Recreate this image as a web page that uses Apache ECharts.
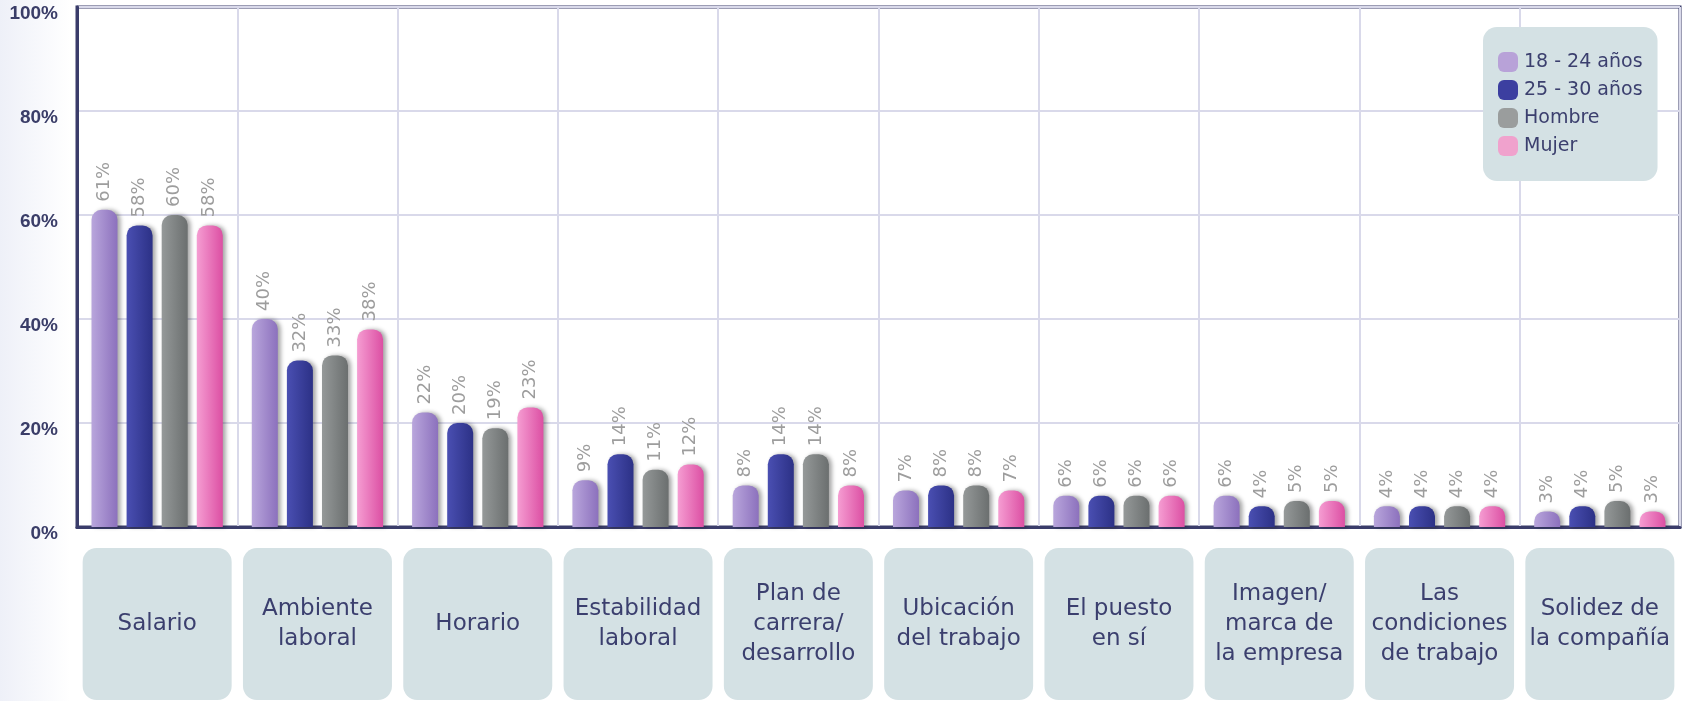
<!DOCTYPE html>
<html>
<head>
<meta charset="utf-8">
<script src="https://cdn.jsdelivr.net/npm/echarts@6/dist/echarts.min.js"></script>
<style>
  html, body { margin: 0; padding: 0; background: #fff; }
  #chart { width: 1683px; height: 701px; background: linear-gradient(to right, #eef0f8 0px, #ffffff 70px); }
</style>
</head>
<body>
<div id="chart"></div>
<script>
// categorias (eje x)
var categories = ['Salario', 'Ambiente\nlaboral', 'Horario', 'Estabilidad\nlaboral', 'Plan de\ncarrera/\ndesarrollo',
  'Ubicación\ndel trabajo', 'El puesto\nen sí', 'Imagen/\nmarca de\nla empresa', 'Las\ncondiciones\nde trabajo', 'Solidez de\nla compañía'];
var seriesNames = ['18 - 24 años', '25 - 30 años', 'Hombre', 'Mujer'];
// valores (%)
var edad1824 = [61, 40, 22, 9, 8, 7, 6, 6, 4, 3];
var edad2530 = [58, 32, 20, 14, 14, 8, 6, 4, 4, 4];
var hombre = [60, 33, 19, 11, 14, 8, 6, 5, 4, 5];
var mujer = [58, 38, 23, 12, 8, 7, 6, 5, 4, 3];
var yTicks = [0, 20, 40, 60, 80, 100];

var chart = echarts.init(document.getElementById('chart'), null, { renderer: 'canvas' });

function grad(c1, c2) {
  return new echarts.graphic.LinearGradient(0, 0, 1, 0, [
    { offset: 0, color: c1 },
    { offset: 1, color: c2 }
  ]);
}

var colors = [
  grad('#b9a6dc', '#8c71bd'),
  grad('#4a4fb2', '#2c3186'),
  grad('#959999', '#6b6f6f'),
  grad('#f59dd2', '#dc4fa3')
];
// colores planos de la leyenda
var legendColors = ['#b8a2d8', '#3c3fa0', '#9a9d9d', '#f0a2cd'];
var roundIcon = 'path://M6,0 H14 A6,6 0 0 1 20,6 V14 A6,6 0 0 1 14,20 H6 A6,6 0 0 1 0,14 V6 A6,6 0 0 1 6,0 Z';

function makeSeries(name, data, idx) {
  return {
    name: name,
    type: 'bar',
    data: data,
    barWidth: 26,
    barGap: '35%',
    itemStyle: {
      color: colors[idx],
      borderRadius: [10, 10, 0, 0],
      shadowColor: 'rgba(0,0,0,0.35)',
      shadowBlur: 4,
      shadowOffsetX: 3
    },
    label: {
      show: true,
      position: 'top',
      rotate: 90,
      align: 'left',
      verticalAlign: 'middle',
      distance: 8,
      formatter: '{c}%',
      color: '#9d9d9d',
      fontSize: 18,
      fontFamily: 'DejaVu Sans'
    }
  };
}

chart.setOption({
  backgroundColor: 'transparent',
  animation: false,
  grid: {
    left: 77,
    right: 3,
    top: 7,
    bottom: 174,
    show: true,
    borderColor: '#3a3c6a',
    borderWidth: 3
  },
  legend: {
    data: seriesNames.map(function (n, i) {
      return { name: n, itemStyle: { color: legendColors[i], shadowBlur: 0, shadowOffsetX: 0, shadowColor: 'transparent' } };
    }),
    orient: 'vertical',
    left: 1483,
    top: 27,
    backgroundColor: '#d4e1e4',
    borderRadius: 14,
    padding: [25, 15, 25, 15],
    itemWidth: 22,
    itemHeight: 20,
    itemGap: 8,
    icon: roundIcon,
    textStyle: {
      fontSize: 19,
      color: '#3b3f6e',
      fontFamily: 'DejaVu Sans'
    }
  },
  xAxis: {
    type: 'category',
    data: categories,
    axisTick: { show: false },
    axisLine: { lineStyle: { color: '#3a3c6a', width: 3 } },
    splitLine: { show: true, interval: 0, lineStyle: { color: '#d9d9ea', width: 2 } },
    axisLabel: {
      interval: 0,
      margin: 97,
      verticalAlign: 'middle',
      align: 'center',
      width: 149,
      height: 152,
      lineHeight: 30,
      backgroundColor: '#d4e1e4',
      borderRadius: 14,
      fontSize: 23,
      color: '#3b3f6e',
      fontFamily: 'DejaVu Sans'
    }
  },
  yAxis: {
    type: 'value',
    min: yTicks[0],
    max: yTicks[yTicks.length - 1],
    interval: 20,
    axisLine: { show: true, lineStyle: { color: '#3a3c6a', width: 3 } },
    axisTick: { show: false },
    splitLine: { lineStyle: { color: '#d9d9ea', width: 2 } },
    axisLabel: {
      formatter: '{value}%',
      margin: 19,
      fontSize: 19,
      fontWeight: 'bold',
      color: '#3a3d68',
      fontFamily: 'Liberation Sans',
      verticalAlign: 'top',
      lineHeight: 14
    }
  },
  series: [
    makeSeries(seriesNames[0], edad1824, 0),
    makeSeries(seriesNames[1], edad2530, 1),
    makeSeries(seriesNames[2], hombre, 2),
    makeSeries(seriesNames[3], mujer, 3)
  ]
});
</script>
</body>
</html>
